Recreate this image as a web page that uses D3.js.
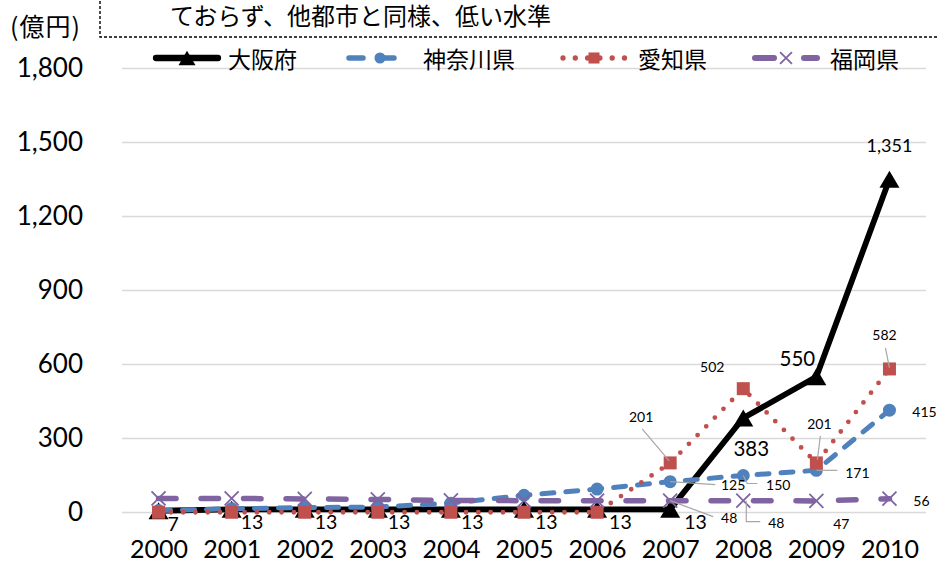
<!DOCTYPE html>
<html>
<head>
<meta charset="utf-8">
<script src="https://cdn.jsdelivr.net/npm/d3@7"></script>
<style>
  html, body { margin: 0; padding: 0; background: #fff; }
  svg { display: block; }
</style>
</head>
<body>
<svg id="chart" width="937" height="563"></svg>
<script>
// ---- data (億円) ----
const years    = ["2000","2001","2002","2003","2004","2005","2006","2007","2008","2009","2010"];
const osaka    = [7, 13, 13, 13, 13, 13, 13, 13, 383, 550, 1351];
const kanagawa = [8, 15, 20, 22, 38, 70, 95, 125, 150, 171, 415];
const aichi    = [1, 1, 1, 1, 1, 1, 1, 201, 502, 201, 582];
const fukuoka  = [57, 57, 55, 53, 49, 48, 48, 48, 48, 47, 56];
const seriesNames = ["大阪府", "神奈川県", "愛知県", "福岡県"];
const yTicks   = [0, 300, 600, 900, 1200, 1500, 1800];
const unitText = "(億円)";
const noteText = "ておらず、他都市と同様、低い水準";

// ---- look of each series ----
const styles = [
  { color: "#000000", width: 5.8, dash: null,      cap: "round", marker: "triangle" },
  { color: "#4F81BD", width: 5,   dash: "12 12",   cap: "round", marker: "circle"   },
  { color: "#C0504D", width: 4.8, dash: "0 12.3",  cap: "round", marker: "square"   },
  { color: "#8064A2", width: 5.5, dash: "17.5 25", cap: "round", marker: "cross"    }
];

// label placement per series: which points get a label, offset from the point,
// optional leader line (offsets from the point), font size
const labelLayout = [
  { size: 19.5, items: {
      0: { dx: 9,  dy: 12.5, anchor: "start" },
      1: { dx: 9,  dy: 12.5, anchor: "start" },
      2: { dx: 10, dy: 12.5, anchor: "start" },
      3: { dx: 10, dy: 12.5, anchor: "start" },
      4: { dx: 10, dy: 12.5, anchor: "start" },
      5: { dx: 11, dy: 12.5, anchor: "start" },
      6: { dx: 12, dy: 12.5, anchor: "start" },
      7: { dx: 14, dy: 12.5, anchor: "start" },
      8: { dx: 8,  dy: 30, anchor: "middle", size: 20.5 },
      9: { dx: -19, dy: -19, anchor: "middle", size: 20.5 },
      10:{ dx: 0,  dy: -34, anchor: "middle", size: 18 } } },
  { size: 14, items: {
      7: { dx: 63, dy: 3,  anchor: "middle", leader: [[0,0],[45,3]] },
      8: { dx: 35, dy: 9,  anchor: "middle", leader: [[0,0],[4,8],[14,8]] },
      9: { dx: 41, dy: 2,  anchor: "middle", leader: [[0,0],[21,0]] },
      10:{ dx: 35, dy: 1,  anchor: "middle" } } },
  { size: 14, items: {
      7: { dx: -29, dy: -46, anchor: "middle", leader: [[-28,-34],[-1,-2]] },
      8: { dx: -31, dy: -22, anchor: "middle" },
      9: { dx: 3,   dy: -39, anchor: "middle", leader: [[4,-27],[1,-3]] },
      10:{ dx: -5,  dy: -34, anchor: "middle", leader: [[-4,-21],[0,-1]] } } },
  { size: 14, items: {
      7: { dx: 59, dy: 17, anchor: "middle", leader: [[0,0],[43,16]] },
      8: { dx: 33, dy: 22, anchor: "middle", leader: [[3,0],[3,21],[17,21]] },
      9: { dx: 25, dy: 23, anchor: "middle" },
      10:{ dx: 32, dy: 2,  anchor: "middle" } } }
];

const allSeries = [osaka, kanagawa, aichi, fukuoka];
const numFont = "Lato, 'Liberation Sans', sans-serif";
const jpFont  = "'Noto Sans CJK JP', 'Noto Sans', sans-serif";
const fmt = d3.format(",");

const svg = d3.select("#chart");

// ---- scales ----
const x = d3.scalePoint().domain(years).range([122, 926]).padding(0.5);
const y = d3.scaleLinear().domain([0, 1800]).range([512.5, 68.5]);

// ---- note box (dashed frame running off the top) ----
svg.append("rect")
  .attr("x", 100).attr("y", -20)
  .attr("width", 900).attr("height", 57)
  .attr("fill", "none")
  .attr("stroke", "#000")
  .attr("stroke-width", 1.4)
  .attr("stroke-dasharray", "3 2");

svg.append("text")
  .attr("x", 170).attr("y", 14)
  .attr("dominant-baseline", "central")
  .attr("font-family", jpFont)
  .attr("font-size", 24)
  .attr("fill", "#000")
  .text(noteText);

svg.append("text")
  .attr("x", 10).attr("y", 25)
  .attr("dominant-baseline", "central")
  .attr("font-family", jpFont)
  .attr("font-size", 25)
  .attr("letter-spacing", 1)
  .attr("fill", "#000")
  .text(unitText);

// ---- gridlines ----
svg.append("g").selectAll("line")
  .data(yTicks)
  .join("line")
  .attr("x1", 122).attr("x2", 926)
  .attr("y1", d => y(d)).attr("y2", d => y(d))
  .attr("stroke", "#d9d9d9")
  .attr("stroke-width", 1.6);

// ---- axes ----
const yAxis = svg.append("g")
  .attr("transform", "translate(83,0)")
  .call(d3.axisLeft(y).tickValues(yTicks).tickFormat(fmt).tickSize(0).tickPadding(0));
yAxis.select(".domain").remove();
yAxis.selectAll("text")
  .attr("font-family", numFont)
  .attr("font-size", 26)
  .attr("fill", "#000");

const xAxis = svg.append("g")
  .attr("transform", "translate(0,512.5)")
  .call(d3.axisBottom(x).tickSize(0).tickPadding(28));
xAxis.select(".domain").remove();
xAxis.selectAll("text")
  .attr("font-family", numFont)
  .attr("font-size", 25)
  .attr("fill", "#000");

// ---- marker drawing ----
function drawMarker(g, type, color, cx, cy, scale) {
  const s = scale || 1;
  if (type === "triangle") {
    const w = 20 * s, h = 17 * s;
    g.append("path")
      .attr("d", `M${cx},${cy - h / 2}L${cx + w / 2},${cy + h / 2}L${cx - w / 2},${cy + h / 2}Z`)
      .attr("fill", color);
  } else if (type === "circle") {
    g.append("circle").attr("cx", cx).attr("cy", cy).attr("r", 6.5 * s).attr("fill", color);
  } else if (type === "square") {
    const a = 13 * s;
    g.append("rect").attr("x", cx - a / 2).attr("y", cy - a / 2)
      .attr("width", a).attr("height", a).attr("fill", color);
  } else if (type === "cross") {
    const a = 7 * s;
    g.append("path")
      .attr("d", `M${cx - a},${cy - a}L${cx + a},${cy + a}M${cx - a},${cy + a}L${cx + a},${cy - a}`)
      .attr("stroke", color).attr("stroke-width", 1.8).attr("fill", "none");
  }
}

// ---- series lines and markers ----
const line = d3.line()
  .x((d, i) => x(years[i]))
  .y(d => y(d));

allSeries.forEach((vals, si) => {
  const st = styles[si];
  const g = svg.append("g").attr("class", "series");
  g.append("path")
    .datum(vals)
    .attr("d", line)
    .attr("fill", "none")
    .attr("stroke", st.color)
    .attr("stroke-width", st.width)
    .attr("stroke-linecap", st.cap)
    .attr("stroke-linejoin", "round")
    .attr("stroke-dasharray", st.dash);
  vals.forEach((v, i) => drawMarker(g, st.marker, st.color, x(years[i]), y(v)));
});

// ---- data labels ----
const lbl = svg.append("g").attr("class", "labels");
allSeries.forEach((vals, si) => {
  const lay = labelLayout[si];
  Object.keys(lay.items).forEach(k => {
    const i = +k;
    const it = lay.items[k];
    const px = x(years[i]), py = y(vals[i]);
    if (it.leader) {
      lbl.append("path")
        .attr("d", d3.line()(it.leader.map(p => [px + p[0], py + p[1]])))
        .attr("fill", "none")
        .attr("stroke", "#a6a6a6")
        .attr("stroke-width", 1.2);
    }
    lbl.append("text")
      .attr("x", px + it.dx)
      .attr("y", py + it.dy)
      .attr("text-anchor", it.anchor)
      .attr("dominant-baseline", "central")
      .attr("font-family", numFont)
      .attr("font-size", it.size || lay.size)
      .attr("fill", "#000")
      .text(fmt(vals[i]));
  });
});

// ---- legend ----
const legendX = [153, 346, 560, 752];
const legendTextX = [228, 423, 638, 830];
const legendY = 58;
const leg = svg.append("g").attr("class", "legend");
seriesNames.forEach((name, si) => {
  const st = styles[si];
  const x0 = legendX[si], x1 = x0 + 68;
  leg.append("line")
    .attr("x1", x0 + 3).attr("x2", x1 - 3)
    .attr("y1", legendY).attr("y2", legendY)
    .attr("stroke", st.color)
    .attr("stroke-width", st.width + 0.5)
    .attr("stroke-linecap", st.cap)
    .attr("stroke-dasharray", si === 1 ? "14 17" : si === 3 ? "19 30" : st.dash);
  drawMarker(leg, st.marker, st.color, (x0 + x1) / 2, legendY, 0.85);
  leg.append("text")
    .attr("x", legendTextX[si]).attr("y", legendY)
    .attr("dominant-baseline", "central")
    .attr("font-family", jpFont)
    .attr("font-size", 23)
    .attr("fill", "#000")
    .text(name);
});
</script>
</body>
</html>
